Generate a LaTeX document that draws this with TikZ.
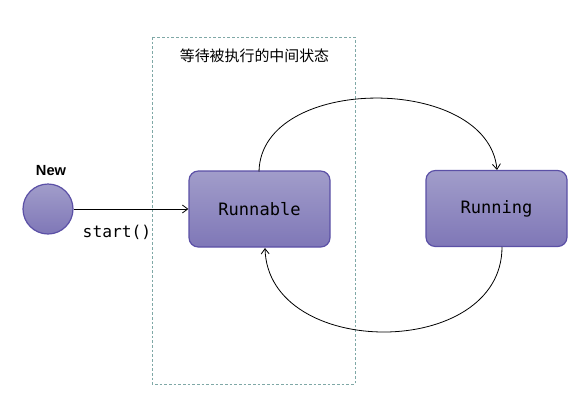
\documentclass[tikz,border=0pt]{standalone}
\usepackage{fontspec}
\setmainfont{Liberation Sans}
\setmonofont{DejaVu Sans Mono}
\newfontfamily\cjk{Noto Sans CJK SC}
\usetikzlibrary{arrows.meta}
\definecolor{boxtop}{HTML}{A19DCA}
\definecolor{boxbot}{HTML}{7F77B7}
\definecolor{boxline}{HTML}{5B50A6}
\definecolor{dashc}{HTML}{7FA8A6}
\tikzset{
  state/.style={draw=boxline, line width=0.9pt, rounded corners=7pt, top color=boxtop, bottom color=boxbot,
    minimum width=105.75pt, minimum height=57pt, inner sep=0pt, font=\ttfamily\fontsize{12.8}{14}\selectfont},
  startc/.style={circle, draw=boxline, line width=0.9pt, top color=boxtop, bottom color=boxbot, minimum size=37.5pt, inner sep=0pt},
  conn/.style={draw=black, line width=0.6pt, -{Straight Barb[length=4pt,width=6pt]}},
  lbl/.style={inner sep=1pt}
}
\begin{document}
\begin{tikzpicture}[x=0.75pt,y=-0.75pt]
\useasboundingbox (0,0) rectangle (584,404);
\draw[dashc, dashed, line width=0.6pt, dash pattern=on 2pt off 1.5pt] (152,37) rectangle (355,384);
\node[lbl, font=\cjk\fontsize{11.2}{12}\selectfont] (title) at (254.5,56) {等待被执行的中间状态};
\node[startc] (new) at (48,209) {};
\node[lbl, font=\bfseries\fontsize{11}{12}\selectfont] (newl) at (51,171) {New};
\node[state] (runnable) at (259.5,209) {Runnable};
\node[state] (running) at (496.5,208.5) {Running};
\node[lbl, font=\ttfamily\fontsize{12.2}{13}\selectfont] (startl) at (117,232) {start()};
\draw[conn] (new.east) -- (runnable.west);
\coordinate (a1) at (259,171.5);
\coordinate (a2) at (497,170);
\draw[conn] (a1) .. controls (261,74) and (488,74) .. (a2);
\coordinate (b1) at (502,247);
\coordinate (b2) at (265,248);
\draw[conn] (b1) .. controls (502,360) and (268,360) .. (b2);
\end{tikzpicture}
\end{document}
